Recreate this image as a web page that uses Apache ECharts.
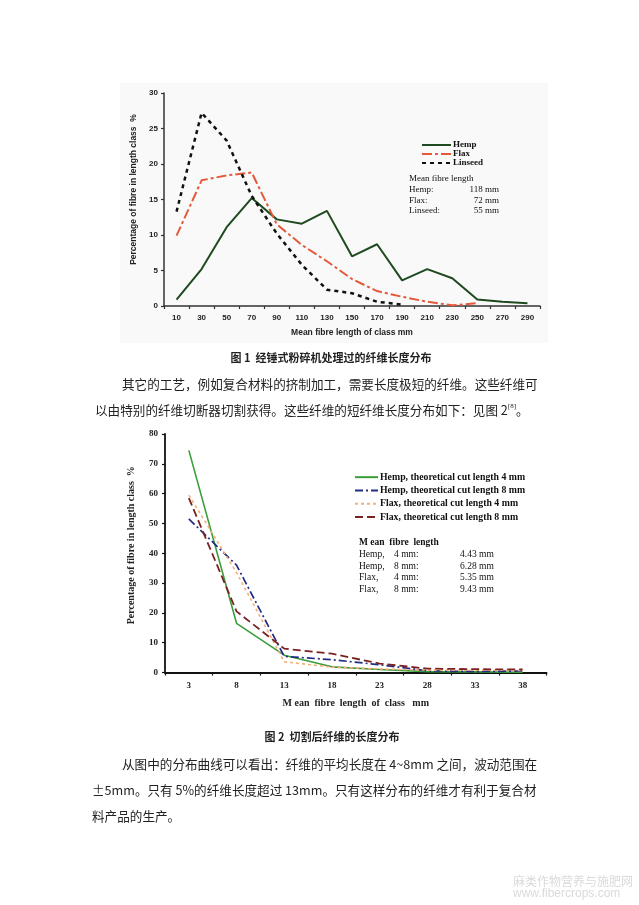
<!DOCTYPE html>
<html>
<head>
<meta charset="utf-8">
<script src="https://cdn.jsdelivr.net/npm/echarts@6/dist/echarts.min.js"></script>
<style>
html,body{margin:0;padding:0;background:#fff;}
#c{width:639px;height:905px;}
</style>
</head>
<body>
<div id="c"></div>
<script>
// ---- Figure 1 data ----
const cats1 = ['10','30','50','70','90','110','130','150','170','190','210','230','250','270','290'];
const hemp1 = [0.9, 5.2, 11.1, 15.2, 12.2, 11.6, 13.4, 7.0, 8.7, 3.6, 5.2, 3.9, 0.9, 0.6, 0.4];
const flax1 = [9.9, 17.7, 18.4, 18.8, 11.5, 8.6, 6.3, 3.8, 2.1, 1.3, 0.6, 0.1, 0.4, null, null];
const linseed1 = [13.3, 27.2, 23.3, 15.5, 10.2, 5.8, 2.3, 1.8, 0.6, 0.2, null, null, null, null, null];
const names1 = ['Hemp', 'Flax', 'Linseed'];
const meanLabels1 = ['Hemp:', 'Flax:', 'Linseed:'];
const meanValues1 = ['118 mm', '72 mm', '55 mm'];

// ---- Figure 2 data ----
const cats2 = ['3','8','13','18','23','28','33','38'];
const hemp4 = [74.5, 16.5, 5.8, 1.9, 1.0, 0.3, 0.2, 0.1];
const hemp8 = [51.5, 36.0, 5.4, 4.3, 2.6, 0.6, 0.3, 0.5];
const flax4 = [59.5, 33.5, 3.6, 1.8, 1.2, 0.8, 0.8, 0.7];
const flax8 = [58.5, 20.5, 8.0, 6.3, 3.0, 1.3, 1.1, 1.0];
const names2 = ['Hemp, theoretical cut length 4 mm','Hemp, theoretical cut length 8 mm','Flax, theoretical cut length 4 mm','Flax, theoretical cut length 8 mm'];
const meanNames2 = ['Hemp,', 'Hemp,', 'Flax,', 'Flax,'];
const meanCut2 = ['4 mm:', '8 mm:', '4 mm:', '8 mm:'];
const meanValues2 = ['4.43 mm', '6.28 mm', '5.35 mm', '9.43 mm'];

// ---- Page text ----
const caption1 = '图 1  经锤式粉碎机处理过的纤维长度分布';
const caption2 = '图 2  切割后纤维的长度分布';
const para1 = ['其它的工艺，例如复合材料的挤制加工，需要长度极短的纤维。这些纤维可',
               '以由特别的纤维切断器切割获得。这些纤维的短纤维长度分布如下：见图 2{sup|[8]}。'];
const para2 = ['从图中的分布曲线可以看出：纤维的平均长度在 4~8mm 之间，波动范围在',
               '±5mm。只有 5%的纤维长度超过 13mm。只有这样分布的纤维才有利于复合材',
               '料产品的生产。'];
const watermark = ['麻类作物营养与施肥网', 'www.fibercrops.com'];

const chart = echarts.init(document.getElementById('c'), null, {renderer: 'canvas'});

const sans = 'Liberation Sans';
const serif = 'Liberation Serif';
const cjk = '"Noto Sans CJK SC"';

function txt(x, y, text, font, opts) {
  return {
    type: 'text', x: x, y: y, silent: true,
    style: Object.assign({text: text, font: font, fill: '#222', verticalAlign: 'middle'}, (opts || {}))
  };
}

const graphics = [];
graphics.push({type: 'rect', shape: {x: 120, y: 83, width: 428, height: 260}, style: {fill: '#f9f9f9'}, z: -10, silent: true});

// Figure 1 mean-length block
graphics.push(txt(409, 179, 'Mean fibre length', '9px ' + serif, {fill: '#111'}));
meanLabels1.forEach((l, i) => {
  const y = [189.5, 200.5, 211][i];
  graphics.push(txt(409, y, l, '9px ' + serif, {fill: '#111'}));
  graphics.push(txt(499, y, meanValues1[i], '9px ' + serif, {fill: '#111', align: 'right'}));
});

// Figure 2 mean-length block
graphics.push(txt(359, 543, 'M ean  fibre  length', 'bold 9.5px ' + serif, {fill: '#111'}));
meanNames2.forEach((l, i) => {
  const y = [554.5, 566, 577.5, 589][i];
  graphics.push(txt(359, y, l, '9.5px ' + serif, {fill: '#111'}));
  graphics.push(txt(394, y, meanCut2[i], '9.5px ' + serif, {fill: '#111'}));
  graphics.push(txt(460, y, meanValues2[i], '9.5px ' + serif, {fill: '#111'}));
});

// captions
graphics.push(txt(331, 358, caption1, 'bold 11px ' + cjk, {fill: '#222', align: 'center'}));
graphics.push(txt(332, 737, caption2, 'bold 11px ' + cjk, {fill: '#222', align: 'center'}));

// paragraphs
const bodyFont = '12.6px ' + cjk;
graphics.push(txt(122, 384, para1[0], bodyFont));
graphics.push({
  type: 'text', x: 95, y: 410, silent: true,
  style: {text: para1[1], font: bodyFont, fill: '#222', verticalAlign: 'middle',
          rich: {sup: {fontSize: 7, fontFamily: 'Liberation Serif', fill: '#222', padding: [0, 0, 8, 0]}}}
});
graphics.push(txt(122, 764, para2[0], bodyFont));
graphics.push(txt(92, 790, para2[1], bodyFont));
graphics.push(txt(92, 816, para2[2], bodyFont));

// watermark
graphics.push(txt(513, 881, watermark[0], '12px ' + cjk, {fill: '#dadada'}));
graphics.push(txt(513, 894, watermark[1], '12px ' + sans, {fill: '#dadada'}));

const axisCommon1 = {
  axisLine: {show: true, lineStyle: {color: '#333', width: 1.5}},
  axisTick: {show: true, length: 3, lineStyle: {color: '#333', width: 1.2}},
  splitLine: {show: false},
  axisLabel: {fontSize: 8, fontWeight: 'bold', fontFamily: sans, color: '#222'},
  nameTextStyle: {fontSize: 8.5, fontWeight: 'bold', fontFamily: sans, color: '#222'}
};
const axisCommon2 = {
  axisLine: {show: true, lineStyle: {color: '#111', width: 1.8}},
  axisTick: {show: true, length: 3, lineStyle: {color: '#111', width: 1.2}},
  splitLine: {show: false},
  axisLabel: {fontSize: 9, fontWeight: 'bold', fontFamily: serif, color: '#222'},
  nameTextStyle: {fontSize: 10, fontWeight: 'bold', fontFamily: serif, color: '#222'}
};

const option = {
  animation: false,
  backgroundColor: '#ffffff',
  grid: [
    {left: 164, top: 93, width: 376, height: 213},
    {left: 165, top: 434, width: 381.5, height: 238.5}
  ],
  legend: [
    {
      data: names1, orient: 'vertical', left: 416, top: 135.5,
      itemWidth: 29, itemHeight: 8.5, itemGap: 0,
      itemStyle: {opacity: 0},
      textStyle: {fontSize: 9, fontFamily: serif, fontWeight: 'bold', color: '#111', lineHeight: 8.5, padding: [0, 0, 0, -3]},
      selectedMode: false
    },
    {
      data: names2, orient: 'vertical', left: 349, top: 465.5,
      itemWidth: 23, itemHeight: 13.3, itemGap: 0,
      itemStyle: {opacity: 0},
      textStyle: {fontSize: 9.8, fontFamily: serif, fontWeight: 'bold', color: '#111', lineHeight: 13.3, padding: [0, 0, 0, -3]},
      selectedMode: false
    }
  ],
  xAxis: [
    Object.assign({}, axisCommon1, {
      type: 'category', gridIndex: 0, data: cats1, boundaryGap: true,
      name: 'Mean fibre length of class mm', nameLocation: 'middle', nameGap: 22,
      axisLabel: Object.assign({}, axisCommon1.axisLabel, {margin: 8, interval: 0})
    }),
    Object.assign({}, axisCommon2, {
      type: 'category', gridIndex: 1, data: cats2, boundaryGap: true,
      name: 'M ean  fibre  length  of  class   mm', nameLocation: 'middle', nameGap: 26,
      axisLabel: Object.assign({}, axisCommon2.axisLabel, {margin: 9, interval: 0})
    })
  ],
  yAxis: [
    Object.assign({}, axisCommon1, {
      type: 'value', gridIndex: 0, min: 0, max: 30, interval: 5,
      name: 'Percentage of fibre in length class  %', nameLocation: 'middle', nameGap: 23, nameRotate: 90,
      nameTextStyle: Object.assign({}, axisCommon1.nameTextStyle, {padding: [0, 0, 0, 20]}),
      axisLabel: Object.assign({}, axisCommon1.axisLabel, {margin: 6})
    }),
    Object.assign({}, axisCommon2, {
      type: 'value', gridIndex: 1, min: 0, max: 80, interval: 10,
      name: 'Percentage of fibre in length class  %', nameLocation: 'middle', nameGap: 29, nameRotate: 90,
      nameTextStyle: Object.assign({}, axisCommon2.nameTextStyle, {padding: [0, 0, 0, 16]}),
      axisLabel: Object.assign({}, axisCommon2.axisLabel, {margin: 7})
    })
  ],
  graphic: graphics,
  series: [
    {name: names1[0], type: 'line', xAxisIndex: 0, yAxisIndex: 0, data: hemp1, symbol: 'none',
     lineStyle: {color: '#1f4a1f', width: 2}, itemStyle: {color: '#1f4a1f'}},
    {name: names1[1], type: 'line', xAxisIndex: 0, yAxisIndex: 0, data: flax1, symbol: 'none',
     lineStyle: {color: '#e4593a', width: 2, type: [10, 3, 3, 3]}, itemStyle: {color: '#e4593a'}},
    {name: names1[2], type: 'line', xAxisIndex: 0, yAxisIndex: 0, data: linseed1, symbol: 'none',
     lineStyle: {color: '#111', width: 2.5, type: [4, 4]}, itemStyle: {color: '#111'}},

    {name: names2[0], type: 'line', xAxisIndex: 1, yAxisIndex: 1, data: hemp4, symbol: 'none',
     lineStyle: {color: '#3a9e3a', width: 1.6}, itemStyle: {color: '#3a9e3a'}},
    {name: names2[1], type: 'line', xAxisIndex: 1, yAxisIndex: 1, data: hemp8, symbol: 'none',
     lineStyle: {color: '#232c85', width: 1.7, type: [8, 3, 2, 3]}, itemStyle: {color: '#232c85'}},
    {name: names2[2], type: 'line', xAxisIndex: 1, yAxisIndex: 1, data: flax4, symbol: 'none',
     lineStyle: {color: '#f3b07c', width: 1.6, type: [3, 3]}, itemStyle: {color: '#f3b07c'}},
    {name: names2[3], type: 'line', xAxisIndex: 1, yAxisIndex: 1, data: flax8, symbol: 'none',
     lineStyle: {color: '#7a2222', width: 1.8, type: [8, 4]}, itemStyle: {color: '#7a2222'}}
  ]
};
chart.setOption(option);
</script>
</body>
</html>
